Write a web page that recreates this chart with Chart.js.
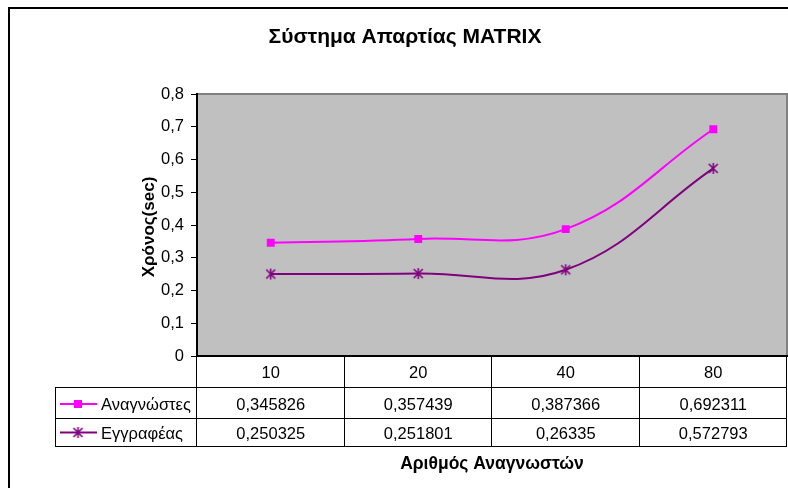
<!DOCTYPE html>
<html>
<head>
<meta charset="utf-8">
<script src="https://cdn.jsdelivr.net/npm/chart.js@4/dist/chart.umd.min.js"></script>
<style>
  html, body { margin: 0; padding: 0; background: #fff; }
  canvas { display: block; }
</style>
</head>
<body>
<canvas id="c" width="788" height="488"></canvas>
<script>
// Response time of the MATRIX quorum system by number of readers
const categories = ['10', '20', '40', '80'];
const readers = [0.345826, 0.357439, 0.387366, 0.692311];
const writer = [0.250325, 0.251801, 0.26335, 0.572793];
const seriesNames = ['Αναγνώστες', 'Εγγραφέας'];
const yTicks = [0, 0.1, 0.2, 0.3, 0.4, 0.5, 0.6, 0.7, 0.8];
const chartTitle = 'Σύστημα Απαρτίας MATRIX';
const xTitle = 'Αριθμός Αναγνωστών';
const yTitle = 'Χρόνος(sec)';

const FONT = '"Liberation Sans", Arial, sans-serif';
const PINK = '#FF00FF';
const PURPLE = '#800080';

const fmt = v => String(v).replace('.', ',');

// asterisk-style marker: an X crossed by a vertical stroke
function starMarker(color) {
  const c = document.createElement('canvas');
  c.width = 13; c.height = 13;
  const g = c.getContext('2d');
  g.strokeStyle = color;
  g.lineWidth = 1.6;
  g.beginPath();
  g.moveTo(2, 2); g.lineTo(11, 11);
  g.moveTo(11, 2); g.lineTo(2, 11);
  g.moveTo(6.5, 1); g.lineTo(6.5, 12);
  g.stroke();
  return c;
}
const star = starMarker(PURPLE);

const frame = {
  id: 'frame',
  beforeDraw(chart) {
    const { ctx, chartArea: a } = chart;
    ctx.save();
    ctx.fillStyle = '#fff';
    ctx.fillRect(0, 0, chart.width, chart.height);
    // outer chart border
    ctx.strokeStyle = '#000';
    ctx.lineWidth = 2;
    ctx.strokeRect(9, 8, chart.width + 20, chart.height + 20);
    // plot area
    ctx.fillStyle = '#C0C0C0';
    ctx.fillRect(a.left, a.top, a.right - a.left, a.bottom - a.top);
    ctx.strokeStyle = '#808080';
    ctx.lineWidth = 2;
    ctx.beginPath();
    ctx.moveTo(a.left, a.top);
    ctx.lineTo(a.right, a.top);
    ctx.lineTo(a.right, a.bottom);
    ctx.stroke();
    ctx.restore();
  },
  afterDraw(chart) {
    const { ctx, chartArea: a } = chart;
    const x = chart.scales.x;
    const step = x.getPixelForValue(1) - x.getPixelForValue(0);
    ctx.save();

    // title
    ctx.fillStyle = '#000';
    ctx.font = 'bold 21px ' + FONT;
    ctx.textAlign = 'center';
    ctx.textBaseline = 'alphabetic';
    ctx.fillText(chartTitle, 405, 43);

    // axis titles
    ctx.font = 'bold 17.5px ' + FONT;
    ctx.fillText(xTitle, (a.left + a.right) / 2, 468.5);
    ctx.save();
    ctx.translate(149, 227);
    ctx.rotate(-Math.PI / 2);
    ctx.textBaseline = 'middle';
    ctx.font = 'bold 17px ' + FONT;
    ctx.fillText(yTitle, 0, 0);
    ctx.restore();

    // data table
    const rowBottom = 446;
    const legendLeft = 55;
    ctx.strokeStyle = '#000';
    ctx.lineWidth = 1;
    ctx.beginPath();
    // horizontal rules
    ctx.moveTo(legendLeft, 387.5); ctx.lineTo(a.right, 387.5);
    ctx.moveTo(legendLeft, 418.5); ctx.lineTo(a.right, 418.5);
    ctx.moveTo(legendLeft, rowBottom + 0.5); ctx.lineTo(a.right, rowBottom + 0.5);
    // legend column left edge
    ctx.moveTo(legendLeft + 0.5, 387); ctx.lineTo(legendLeft + 0.5, rowBottom + 1);
    // column separators
    for (let i = 0; i <= categories.length; i++) {
      const bx = Math.round(x.getPixelForValue(0) - step / 2 + i * step) - 0.5;
      ctx.moveTo(bx, a.bottom); ctx.lineTo(bx, rowBottom + 1);
    }
    ctx.stroke();

    ctx.font = '16.5px ' + FONT;
    ctx.fillStyle = '#000';
    ctx.textAlign = 'center';
    ctx.textBaseline = 'alphabetic';
    categories.forEach((c, i) => ctx.fillText(c, x.getPixelForValue(i), 377.5));
    const rows = [readers, writer];
    const baselines = [410, 438.5];
    rows.forEach((vals, r) => {
      vals.forEach((v, i) => ctx.fillText(fmt(v), x.getPixelForValue(i), baselines[r]));
    });

    // legend keys
    const keyY = [404, 432.5];
    const colors = [PINK, PURPLE];
    colors.forEach((col, r) => {
      ctx.strokeStyle = col;
      ctx.lineWidth = 2;
      ctx.beginPath();
      ctx.moveTo(60, keyY[r]); ctx.lineTo(97, keyY[r]);
      ctx.stroke();
      if (r === 0) {
        ctx.fillStyle = col;
        ctx.fillRect(74, keyY[r] - 4, 8, 8);
      } else {
        ctx.drawImage(star, 78 - 6.5, keyY[r] - 6.5);
      }
      ctx.fillStyle = '#000';
      ctx.textAlign = 'left';
      ctx.fillText(seriesNames[r], 101, baselines[r]);
    });

    ctx.restore();
  }
};

new Chart(document.getElementById('c'), {
  type: 'line',
  data: {
    labels: categories,
    datasets: [
      {
        label: seriesNames[0],
        data: readers,
        borderColor: PINK,
        backgroundColor: PINK,
        borderWidth: 2,
        pointStyle: 'rect',
        pointRadius: 5.6,
        pointBorderWidth: 0,
        pointBackgroundColor: PINK,
        tension: 0.4,
        fill: false
      },
      {
        label: seriesNames[1],
        data: writer,
        borderColor: PURPLE,
        backgroundColor: PURPLE,
        borderWidth: 2,
        pointStyle: star,
        pointRadius: 6,
        tension: 0.4,
        fill: false
      }
    ]
  },
  options: {
    responsive: false,
    animation: false,
    devicePixelRatio: 1,
    layout: { autoPadding: false, padding: { left: 0, top: 94, right: 1, bottom: 0 } },
    plugins: {
      legend: { display: false },
      title: { display: false },
      tooltip: { enabled: false }
    },
    scales: {
      x: {
        type: 'category',
        offset: true,
        grid: { display: false },
        border: { display: true, color: '#000', width: 2 },
        ticks: { display: false },
        afterFit(s) { s.height = 132; }
      },
      y: {
        min: 0,
        max: 0.8,
        afterBuildTicks(s) { s.ticks = yTicks.map(v => ({ value: v })); },
        grid: { drawOnChartArea: false, drawTicks: true, tickLength: 6, color: '#000', tickWidth: 1 },
        border: { display: true, color: '#000', width: 2 },
        ticks: {
          color: '#000',
          padding: 7,
          font: { family: FONT, size: 16.5 },
          callback: v => (v === 0 ? '0' : fmt(v.toFixed(1)))
        },
        afterFit(s) { s.width = 197; }
      }
    }
  },
  plugins: [frame]
});
</script>
</body>
</html>
